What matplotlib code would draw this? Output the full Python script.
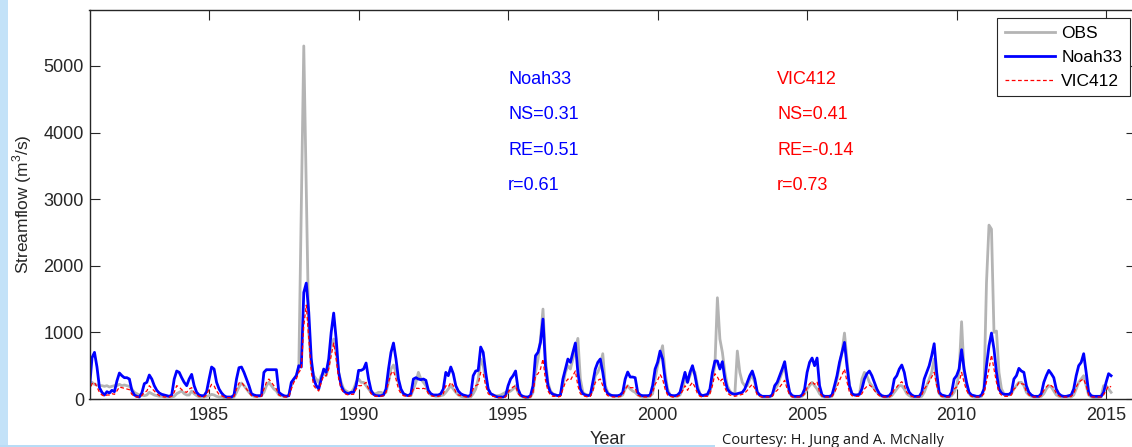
import matplotlib
matplotlib.use('Agg')
import matplotlib.pyplot as plt
import numpy as np
from matplotlib.patches import Rectangle

plt.rcParams['font.family'] = ['Liberation Sans', 'DejaVu Sans']
plt.rcParams['mathtext.fontset'] = 'custom'
plt.rcParams['mathtext.rm'] = 'Liberation Sans'

# monthly streamflow (m3/s), one row per year starting 1981, last year partial
start_year = 1981

obs_flow = [
    [220, 250, 220, 210, 200, 200, 190, 200, 180, 190, 200, 200],
    [220, 200, 210, 200, 190, 150, 100, 80, 60, 60, 50, 60],
    [100, 80, 60, 50, 40, 40, 30, 30, 30, 30, 40, 80],
    [100, 120, 80, 60, 60, 120, 80, 50, 30, 30, 30, 40],
    [50, 70, 60, 40, 30, 30, 20, 20, 20, 20, 30, 100],
    [180, 240, 200, 150, 100, 60, 40, 40, 40, 50, 100, 200],
    [250, 200, 150, 120, 60, 50, 40, 40, 60, 200, 300, 350],
    [450, 2850, 5300, 3150, 1000, 500, 350, 300, 250, 350, 400, 350],
    [500, 800, 900, 700, 400, 250, 150, 120, 100, 100, 150, 250],
    [300, 250, 250, 200, 150, 100, 80, 80, 100, 100, 80, 100],
    [250, 450, 510, 400, 250, 120, 80, 60, 50, 50, 150, 250],
    [400, 300, 250, 200, 100, 60, 50, 40, 40, 50, 60, 100],
    [150, 200, 150, 100, 60, 40, 30, 30, 30, 30, 80, 150],
    [300, 600, 500, 300, 150, 80, 60, 50, 50, 60, 80, 100],
    [100, 120, 150, 200, 100, 50, 30, 20, 20, 30, 100, 400],
    [600, 900, 1350, 600, 250, 120, 80, 60, 50, 60, 200, 400],
    [500, 450, 600, 750, 910, 300, 100, 70, 60, 60, 150, 350],
    [400, 500, 680, 200, 100, 60, 50, 40, 40, 40, 60, 150],
    [200, 150, 120, 100, 60, 40, 30, 30, 30, 40, 80, 300],
    [500, 650, 800, 400, 150, 60, 40, 40, 40, 60, 150, 300],
    [250, 350, 450, 400, 200, 80, 50, 50, 60, 100, 300, 500],
    [1520, 900, 700, 400, 200, 120, 80, 70, 720, 400, 250, 200],
    [200, 300, 350, 250, 100, 50, 30, 30, 30, 30, 50, 150],
    [200, 300, 400, 500, 250, 80, 40, 30, 30, 30, 40, 80],
    [150, 200, 250, 200, 150, 80, 40, 30, 30, 30, 40, 120],
    [300, 500, 700, 990, 600, 200, 80, 60, 60, 70, 300, 400],
    [350, 250, 200, 150, 100, 60, 40, 30, 30, 30, 50, 100],
    [150, 200, 200, 150, 80, 50, 30, 30, 30, 30, 40, 100],
    [200, 300, 400, 600, 250, 80, 40, 30, 30, 30, 50, 100],
    [200, 400, 1160, 400, 200, 80, 40, 30, 30, 30, 40, 150],
    [1750, 2610, 2550, 1000, 1020, 400, 150, 80, 60, 60, 80, 150],
    [200, 250, 250, 200, 100, 60, 40, 30, 30, 30, 40, 80],
    [150, 200, 180, 120, 60, 40, 30, 30, 30, 30, 30, 60],
    [150, 250, 300, 350, 200, 60, 30, 20, 20, 20, 30, 200],
    [200, 150, 100],
]

noah_flow = [
    [160, 620, 700, 480, 170, 100, 60, 110, 90, 130, 110, 270],
    [390, 350, 320, 320, 300, 130, 60, 40, 30, 90, 230, 250],
    [360, 300, 200, 130, 90, 70, 60, 50, 40, 60, 300, 420],
    [400, 320, 250, 200, 300, 370, 200, 100, 60, 50, 50, 110],
    [300, 480, 450, 250, 150, 90, 50, 30, 30, 30, 60, 300],
    [470, 480, 400, 300, 200, 80, 60, 50, 50, 50, 400, 440],
    [440, 440, 440, 440, 100, 70, 50, 40, 50, 250, 300, 350],
    [500, 480, 1600, 1740, 1300, 600, 300, 200, 150, 300, 450, 400],
    [600, 1000, 1290, 900, 400, 200, 120, 90, 80, 100, 100, 200],
    [430, 430, 450, 540, 300, 130, 70, 50, 50, 50, 60, 150],
    [450, 700, 840, 600, 300, 150, 80, 60, 50, 80, 300, 320],
    [300, 290, 300, 280, 130, 80, 60, 60, 60, 80, 150, 400],
    [350, 480, 380, 200, 120, 80, 60, 50, 40, 60, 350, 420],
    [430, 780, 700, 400, 150, 80, 60, 40, 30, 30, 30, 50],
    [200, 300, 350, 420, 150, 60, 40, 30, 30, 50, 200, 650],
    [700, 850, 1200, 500, 200, 100, 70, 60, 50, 60, 300, 450],
    [600, 550, 700, 840, 400, 150, 80, 60, 50, 60, 250, 450],
    [550, 600, 400, 150, 80, 60, 50, 50, 50, 60, 100, 300],
    [405, 330, 330, 320, 100, 60, 50, 50, 50, 60, 200, 450],
    [550, 720, 600, 300, 100, 60, 50, 50, 60, 100, 250, 400],
    [250, 400, 500, 350, 150, 70, 50, 60, 70, 150, 400, 570],
    [570, 450, 560, 300, 150, 100, 80, 70, 80, 90, 100, 150],
    [250, 350, 420, 300, 100, 60, 40, 40, 40, 40, 60, 200],
    [250, 350, 450, 560, 300, 100, 50, 40, 40, 40, 60, 150],
    [400, 550, 615, 500, 615, 200, 60, 40, 40, 40, 60, 200],
    [350, 550, 700, 850, 500, 200, 80, 60, 60, 70, 150, 300],
    [380, 420, 350, 250, 150, 80, 50, 40, 40, 50, 100, 300],
    [350, 450, 510, 400, 200, 100, 60, 40, 40, 40, 100, 300],
    [400, 500, 650, 830, 400, 100, 60, 50, 40, 40, 100, 300],
    [350, 450, 740, 450, 250, 100, 60, 50, 40, 40, 60, 150],
    [500, 800, 990, 750, 400, 150, 90, 70, 70, 70, 100, 300],
    [350, 460, 420, 400, 200, 100, 60, 40, 40, 40, 80, 250],
    [350, 430, 380, 320, 150, 80, 50, 40, 40, 50, 60, 150],
    [350, 500, 550, 680, 400, 100, 50, 40, 40, 40, 40, 100],
    [250, 380, 350],
]

vic_flow = [
    [100, 230, 250, 180, 100, 60, 40, 60, 60, 80, 70, 120],
    [180, 170, 160, 150, 140, 70, 40, 30, 30, 50, 100, 120],
    [200, 160, 120, 80, 50, 40, 30, 30, 30, 40, 100, 200],
    [180, 140, 110, 100, 150, 170, 100, 60, 40, 30, 30, 60],
    [150, 220, 200, 120, 70, 50, 30, 20, 20, 20, 40, 150],
    [240, 250, 200, 150, 100, 50, 40, 30, 30, 40, 150, 250],
    [300, 250, 200, 150, 60, 40, 30, 30, 30, 150, 250, 300],
    [400, 450, 1100, 1410, 900, 400, 200, 150, 120, 250, 350, 350],
    [450, 650, 840, 600, 300, 150, 100, 70, 60, 70, 70, 150],
    [200, 200, 220, 250, 150, 80, 50, 40, 40, 40, 50, 100],
    [250, 380, 420, 300, 150, 80, 50, 40, 40, 50, 150, 160],
    [160, 150, 160, 150, 80, 50, 40, 40, 40, 50, 80, 200],
    [180, 250, 200, 100, 60, 50, 40, 30, 30, 40, 150, 200],
    [220, 400, 380, 200, 80, 50, 40, 30, 20, 20, 20, 30],
    [100, 150, 180, 200, 80, 40, 30, 20, 20, 30, 100, 350],
    [380, 450, 600, 280, 120, 60, 40, 40, 30, 40, 150, 250],
    [300, 280, 350, 420, 200, 80, 50, 40, 30, 40, 120, 250],
    [280, 300, 200, 90, 50, 40, 30, 30, 30, 40, 60, 150],
    [200, 170, 170, 160, 60, 40, 30, 30, 30, 40, 100, 220],
    [280, 370, 300, 150, 60, 40, 30, 30, 40, 60, 120, 200],
    [130, 200, 250, 180, 80, 40, 30, 40, 40, 80, 200, 380],
    [330, 260, 300, 170, 90, 60, 50, 40, 50, 60, 70, 90],
    [130, 180, 220, 160, 60, 40, 30, 30, 30, 30, 40, 100],
    [130, 180, 230, 280, 150, 60, 30, 30, 30, 30, 40, 80],
    [170, 230, 260, 220, 260, 100, 40, 30, 30, 30, 40, 100],
    [180, 280, 360, 450, 260, 100, 50, 40, 40, 40, 80, 150],
    [190, 210, 180, 130, 80, 50, 30, 30, 30, 30, 60, 150],
    [180, 230, 260, 200, 100, 60, 40, 30, 30, 30, 60, 150],
    [200, 260, 330, 400, 200, 60, 40, 30, 30, 30, 60, 150],
    [180, 250, 400, 250, 130, 60, 40, 30, 30, 30, 40, 80],
    [260, 450, 660, 450, 250, 100, 60, 40, 40, 40, 60, 150],
    [180, 250, 230, 220, 110, 60, 40, 30, 30, 30, 50, 130],
    [180, 220, 200, 170, 80, 50, 30, 30, 30, 30, 40, 80],
    [180, 250, 280, 300, 200, 60, 30, 30, 30, 30, 30, 60],
    [130, 200, 180],
]

noah_stats = ['Noah33', 'NS=0.31', 'RE=0.51', 'r=0.61']
vic_stats = ['VIC412', 'NS=0.41', 'RE=-0.14', 'r=0.73']
stat_rows_y = [4790, 4265, 3725, 3200]


def flatten(rows):
    vals = np.concatenate([np.asarray(r, dtype=float) for r in rows])
    t = start_year + np.arange(len(vals)) / 12.0
    return t, vals


t_obs, q_obs = flatten(obs_flow)
t_noah, q_noah = flatten(noah_flow)
t_vic, q_vic = flatten(vic_flow)

fig = plt.figure(figsize=(11.32, 4.47), dpi=100)
fig.patch.set_facecolor('white')

# slide decoration: light blue strip on the left and along the bottom
fig.patches.append(Rectangle((0, 0), 8 / 1132, 1, transform=fig.transFigure,
                             facecolor='#c3e2f8', edgecolor='none', zorder=-5))
fig.patches.append(Rectangle((0, 0), 715 / 1132, 2.5 / 447, transform=fig.transFigure,
                             facecolor='#b8dcf6', edgecolor='none', zorder=-5))

ax = fig.add_axes([89.5 / 1132, 48 / 447, 1046.5 / 1132, 389 / 447])

ax.plot(t_obs, q_obs, color='#b4b4b4', linewidth=2.0, label='OBS')
ax.plot(t_noah, q_noah, color='#0000ff', linewidth=2.0, label='Noah33')
ax.plot(t_vic, q_vic, color='#ff0000', linewidth=0.9, linestyle=(0, (3, 2)),
        label='VIC412')

ax.set_xlim(1981, 2016)
ax.set_ylim(0, 5840)
ax.set_xticks(np.arange(1985, 2016, 5))
ax.set_yticks(np.arange(0, 5001, 1000))

ax.tick_params(direction='in', top=True, right=True, length=7, width=0.8,
               labelsize=13, colors='#262626', pad=6)
ax.tick_params(axis='y', pad=4)
for sp in ax.spines.values():
    sp.set_color('#262626')
    sp.set_linewidth(1.0)

ax.set_ylabel('Streamflow (m$^3$/s)', fontsize=12.5, color='#262626')
ax.yaxis.set_label_coords(-0.053, 0.5)
ax.set_xlabel('Year', fontsize=13, color='#262626')
ax.xaxis.set_label_coords(0.495, -0.082)

for label, y in zip(noah_stats, stat_rows_y):
    ax.text(1995.0, y, label, color='#0000ff', fontsize=13, va='center', ha='left')
for label, y in zip(vic_stats, stat_rows_y):
    ax.text(2004.0, y, label, color='#ff0000', fontsize=13, va='center', ha='left')

leg = ax.legend(loc='upper right', bbox_to_anchor=(1130 / 1132, 1 - 18 / 447),
                bbox_transform=fig.transFigure, borderaxespad=0, fontsize=12.5,
                fancybox=False, framealpha=1, edgecolor='#262626',
                handlelength=2.9, handletextpad=0.35, labelspacing=0.5,
                borderpad=0.45)
leg.get_frame().set_linewidth(0.8)

# credit line sits along the bottom edge of the slide
fig.text(722 / 1132, 3.5 / 447, 'Courtesy: H. Jung and A. McNally',
         fontsize=10.5, family=['Open Sans', 'DejaVu Sans'], color='#1a1a1a',
         ha='left', va='baseline')

fig.savefig('out.png', dpi=100)
